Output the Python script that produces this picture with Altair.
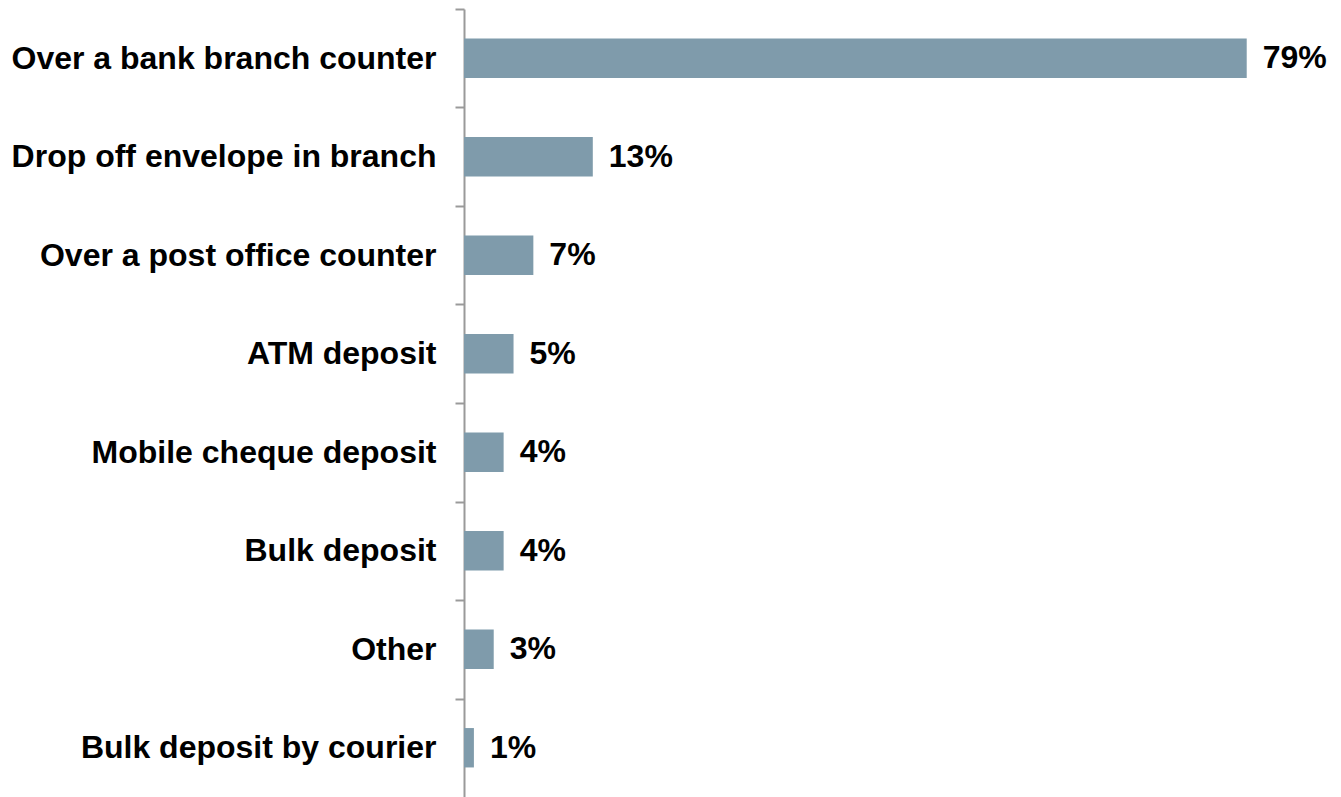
import altair as alt
import pandas as pd

categories = [
    "Over a bank branch counter",
    "Drop off envelope in branch",
    "Over a post office counter",
    "ATM deposit",
    "Mobile cheque deposit",
    "Bulk deposit",
    "Other",
    "Bulk deposit by courier",
]
values = [79, 13, 7, 5, 4, 4, 3, 1]
labels = [f"{v}%" for v in values]

df = pd.DataFrame({"cat": categories, "val": values, "lab": labels})

FONT = "Liberation Sans"

y_enc = alt.Y(
    "cat:N",
    sort=None,
    scale=alt.Scale(paddingInner=0.6, paddingOuter=0.3),
    axis=alt.Axis(
        title=None,
        domainColor="#9a9a9a",
        domainWidth=2,
        tickColor="#9a9a9a",
        tickWidth=2,
        tickSize=9,
        tickBand="center",
        tickOffset=-49.25,
        labelOffset=49.25,
        labelFont=FONT,
        labelFontWeight="bold",
        labelFontSize=32,
        labelColor="#000000",
        labelPadding=19,
        labelLimit=0,
        grid=False,
    ),
)
x_enc = alt.X(
    "val:Q",
    scale=alt.Scale(domain=[0, 86.8], nice=False),
    axis=None,
)

bars = alt.Chart(df).mark_bar(color="#7f9bab").encode(x=x_enc, y=y_enc)
text = alt.Chart(df).mark_text(
    align="left", baseline="middle", dx=16,
    font=FONT, fontWeight="bold", fontSize=32, color="#000000",
).encode(x=x_enc, y=alt.Y("cat:N", sort=None), text="lab:N")

chart = (
    alt.layer(bars, text)
    .properties(
        width=860,
        height=788,
        background="white",
        autosize=alt.AutoSizeParams(type="none"),
        padding={"left": 456, "top": 1, "right": 8, "bottom": 0},
    )
    .configure_view(stroke=None)
    .configure_axis(grid=False)
)

chart.save("out.html", embed_options={"renderer": "svg", "actions": False})
